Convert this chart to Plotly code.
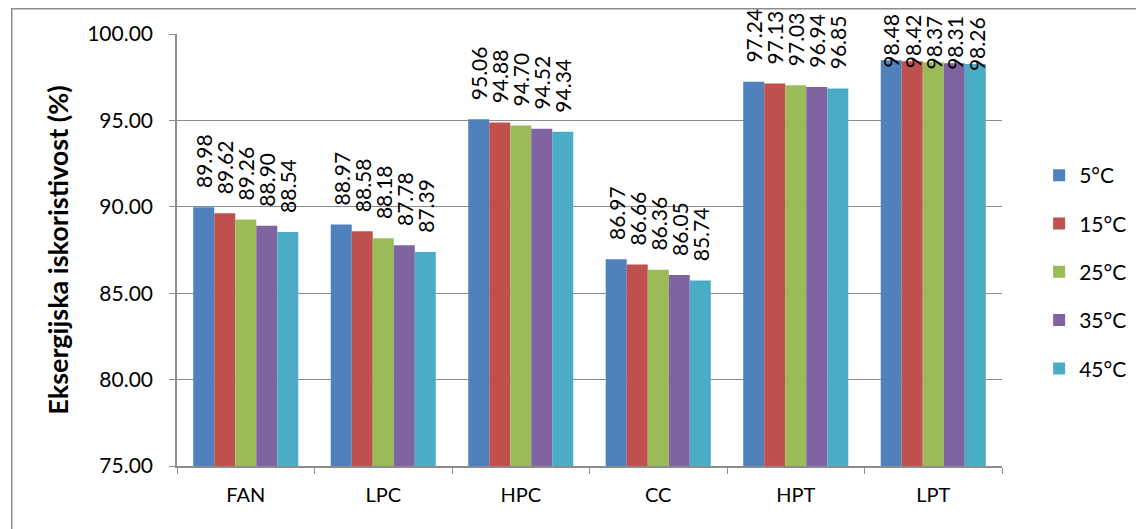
import plotly.graph_objects as go

categories = ["FAN", "LPC", "HPC", "CC", "HPT", "LPT"]
series_names = ["5°C", "15°C", "25°C", "35°C", "45°C"]
t5 = [89.98, 88.97, 95.06, 86.97, 97.24, 98.48]
t15 = [89.62, 88.58, 94.88, 86.66, 97.13, 98.42]
t25 = [89.26, 88.18, 94.70, 86.36, 97.03, 98.37]
t35 = [88.90, 87.78, 94.52, 86.05, 96.94, 98.31]
t45 = [88.54, 87.39, 94.34, 85.74, 96.85, 98.26]
y_ticks = [75, 80, 85, 90, 95, 100]

colors = ["#4F81BD", "#C0504D", "#9BBB59", "#8064A2", "#4BACC6"]
font = "Lato, Calibri, sans-serif"
bargap = 0.236
plot_w = 840
bar_w = plot_w / len(categories) * (1 - bargap) / len(series_names)

fig = go.Figure()
for i, (name, vals) in enumerate(zip(series_names, [t5, t15, t25, t35, t45])):
    # last group labels would run off the page, they go in annotations instead
    templates = ["\u00a0\u00a0\u00a0%{y:.2f}"] * (len(categories) - 1) + [""]
    fig.add_trace(go.Bar(
        x=categories, y=vals, name=name,
        marker=dict(color=colors[i], line=dict(width=0)),
        texttemplate=templates, textposition="outside", textangle=-90,
        textfont=dict(family=font, size=21, color="black"),
        constraintext="none", cliponaxis=False,
        legendgroup=name,
    ))
    fig.add_annotation(
        x=categories[-1], y=vals[-1], xref="x", yref="y",
        text=f"{vals[-1]:.2f}", showarrow=False, textangle=-90,
        xshift=(i - (len(series_names) - 1) / 2) * bar_w,
        yanchor="bottom", yshift=-8, borderpad=0,
        font=dict(family=font, size=21, color="black"),
    )

# page has an 8px body margin, so the figure is sized to fit inside it
fig.update_layout(
    width=1136, height=521,
    margin=dict(l=169, r=127, t=26, b=63),
    paper_bgcolor="white", plot_bgcolor="white",
    barmode="group", bargap=bargap, bargroupgap=0,
    font=dict(family=font, color="black"),
    showlegend=True,
    legend=dict(x=1.045, y=0.449, xanchor="left", yanchor="middle",
                font=dict(family=font, size=21), tracegroupgap=18,
                traceorder="grouped", itemwidth=30),
)
fig.update_yaxes(
    range=[75, 100], tickvals=y_ticks, tickformat=".2f",
    showgrid=True, gridcolor="#8c8c8c", gridwidth=1.2,
    showline=True, linecolor="#8c8c8c", linewidth=1.5,
    ticks="outside", ticklen=6, tickcolor="#8c8c8c", ticklabelstandoff=12,
    tickfont=dict(family=font, size=21),
    title=dict(text="<b>Eksergijska iskoristivost (%)</b>",
               font=dict(family=font, size=27), standoff=11),
    zeroline=False, automargin=False,
)
fig.update_xaxes(
    showline=True, linecolor="#8c8c8c", linewidth=1.5,
    ticks="outside", ticklen=6, tickcolor="#8c8c8c", tickson="boundaries",
    ticklabelstandoff=10,
    tickfont=dict(family=font, size=20), automargin=False,
)
# outer chart border
fig.add_shape(type="rect", xref="paper", yref="paper",
              x0=(0.75 - 169) / 840, x1=1.3, y0=-0.3, y1=1 + (26 - 0.75) / 432,
              line=dict(color="#8c8c8c", width=1.5), layer="below")

fig.write_html("out.html")
